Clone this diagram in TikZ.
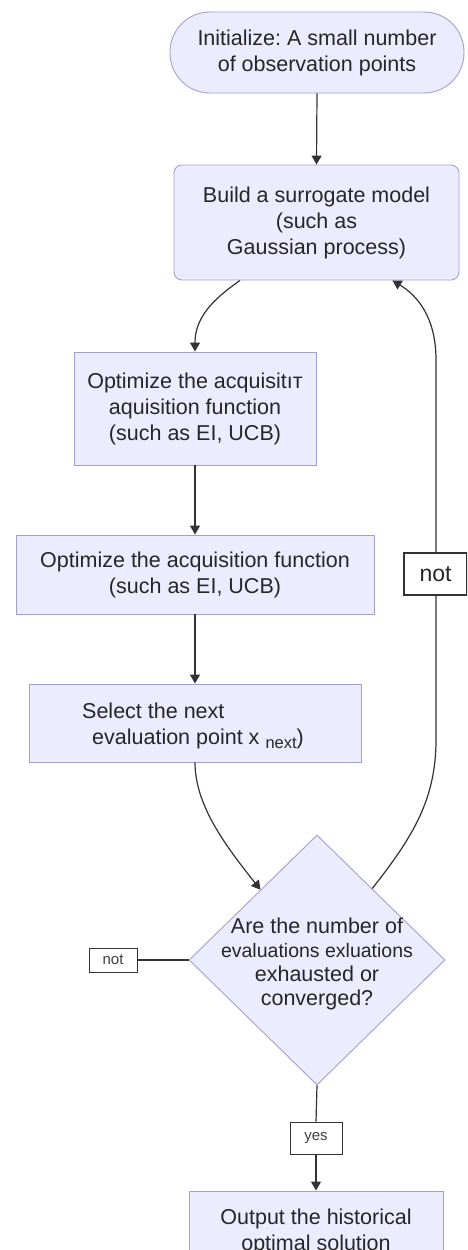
\documentclass[tikz,border=0pt]{standalone}
\usepackage{fontspec}
\setmainfont{Liberation Sans}
\usetikzlibrary{shapes.geometric,arrows.meta,calc}
\definecolor{boxfill}{HTML}{ECECFF}
\definecolor{boxline}{HTML}{A3A0CF}
\definecolor{linec}{HTML}{333333}
\frenchspacing
\begin{document}
\begin{tikzpicture}[x=1pt,y=-1pt,
  box/.style={draw=boxline, fill=boxfill, line width=0.9pt, align=center, inner sep=0pt,
    font=\fontsize{21.5}{26}\selectfont, text=black!85},
  flow/.style={draw=linec, line width=1.2pt, -{Triangle[length=9pt,width=10pt]}},
  plain/.style={draw=linec, line width=1.2pt},
  tag/.style={draw=linec, fill=white, line width=0.9pt, inner sep=0pt, font=\fontsize{15}{17}\selectfont, text=black!75}
]
\useasboundingbox (0,0) rectangle (467,1250);
\clip (0,0) rectangle (467,1250);
\fill[white] (0,0) rectangle (467,1250);

\node[box, rounded corners=40pt, minimum width=294pt, minimum height=81pt] (start) at (317,52.5)
  {Initialize: A small number\\of observation points};
\node[box, rounded corners=8pt, minimum width=285pt, minimum height=115pt] (build) at (316.5,222.5)
  {Build a surrogate model\\(such as\\Gaussian process)};
\node[box, minimum width=242pt, minimum height=113pt] (opt1) at (195,408.5)
  {Optimize the acquisitıт\\aquisition function\\(such as EI, UCB)};
\node[box, minimum width=358pt, minimum height=79pt] (opt2) at (195,574.5)
  {Optimize the acquisition function\\(such as EI, UCB)};
\node[box, minimum width=332pt, minimum height=78pt] (sel) at (195,723) {};
\node[anchor=west, align=left, font=\fontsize{21.5}{26}\selectfont, text=black!85, inner sep=0pt] (seltext) at (82,726)
  {Select the next\\\hspace*{10pt}evaluation point x {\fontsize{16.5}{18}\selectfont\raisebox{-3.5pt}{next}})};
\node[box, diamond, minimum width=256pt, minimum height=250pt] (dec) at (317,960) {};
\node[align=center, font=\fontsize{21.5}{23.8}\selectfont, text=black!85, inner sep=0pt] (dectext) at (317,964)
  {Are the number of\\{\fontsize{19.5}{23.8}\selectfont evaluations exluations}\\exhausted or\\converged?};
\node[box, minimum width=254pt, minimum height=82pt] (out) at (316,1232)
  {Output the historical\\optimal solution};

\node[tag, minimum width=48pt, minimum height=24pt] (notL) at (113,960) {not};
\node[tag, minimum width=52pt, minimum height=32pt] (yes) at (316,1138) {yes};

\draw[flow] (start.south) -- (build.north);
\draw[flow] ([xshift=-76.5pt]build.south) .. controls (212,300) and (195,318) .. (opt1.north);
\draw[flow] (opt1.south) -- (opt2.north);
\draw[flow] (opt2.south) -- (sel.north);
\coordinate (decL) at ($(dec.north)!0.44!(dec.west)$);
\coordinate (decR) at ($(dec.north)!0.43!(dec.east)$);
\draw[flow] (sel.south) .. controls (195,805) and (225,845) .. (decL);
\draw[flow] (decR) .. controls (412,838) and (436,800) .. (436,740) -- (436,360)
  .. controls (436,318) and (418,296) .. ([xshift=76pt]build.south);
\node[draw=linec, fill=white, line width=1.2pt, inner sep=0pt, minimum width=63pt, minimum height=42pt,
  font=\fontsize{23}{25}\selectfont, text=black!85] (notR) at (435.5,574) {not};
\draw[plain] (dec.west) -- (notL.east);
\draw[plain] (dec.south) -- (yes.north);
\draw[flow] (yes.south) -- (out.north);
\end{tikzpicture}
\end{document}
